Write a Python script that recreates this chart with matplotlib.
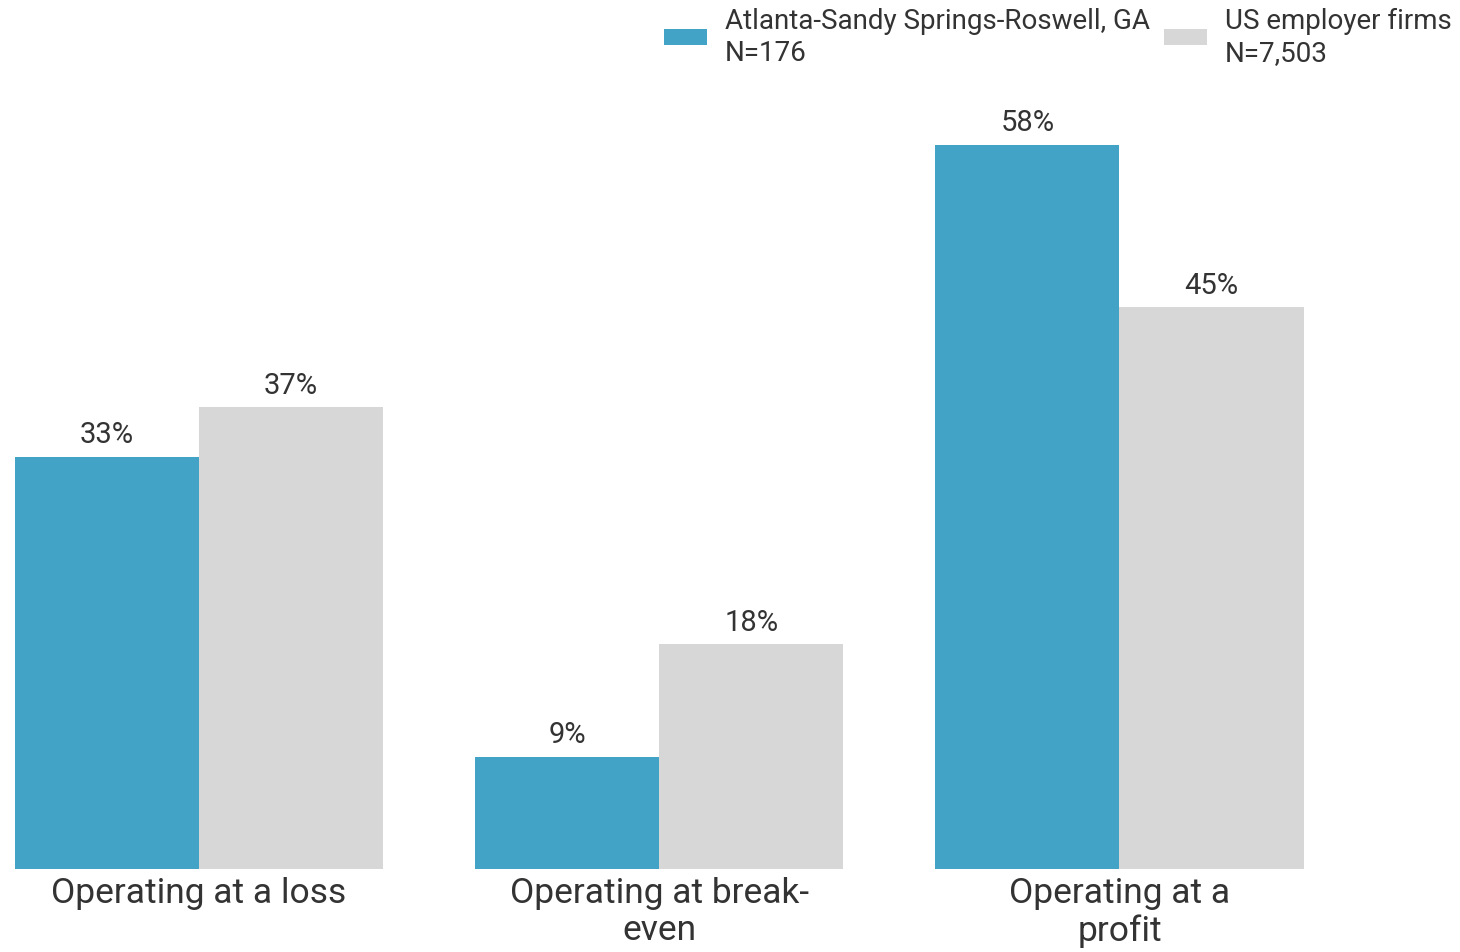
import numpy as np
import matplotlib.pyplot as plt

plt.rcParams['font.family'] = ['Roboto', 'DejaVu Sans']

categories = ["Operating at a loss", "Operating at break-\neven", "Operating at a\nprofit"]
atlanta = [33, 9, 58]
us_firms = [37, 18, 45]
series_names = ["Atlanta-Sandy Springs-Roswell, GA\nN=176", "US employer firms\nN=7,503"]

blue = "#43A3C7"
gray = "#D7D7D7"
txt = "#333333"

fig = plt.figure(figsize=(14.6, 9.53), dpi=100)
ax = fig.add_axes([15/1460, 1-870/953, 1-15/1460, (870-100)/953])

x = np.arange(len(categories))
w = 0.4
b1 = ax.bar(x - w/2, atlanta, w, color=blue, label=series_names[0])
b2 = ax.bar(x + w/2, us_firms, w, color=gray, label=series_names[1])

for bars in (b1, b2):
    for r in bars:
        ax.text(r.get_x() + r.get_width()/2, r.get_height() + 0.7, f"{r.get_height():.0f}%",
                ha="center", va="bottom", fontsize=21, color=txt)

ax.set_xlim(-0.4, 2.74)
ax.set_ylim(0, 61.7)
ax.set_xticks(x)
ax.set_xticklabels(categories, fontsize=25.5, color=txt, linespacing=1.15)
ax.tick_params(axis="x", length=0, pad=5)
ax.set_yticks([])
for s in ax.spines.values():
    s.set_visible(False)

fig.legend(loc="upper right", bbox_to_anchor=(1.0, 1.0), ncol=2, frameon=False,
           fontsize=20, handlelength=1.55, handleheight=0.47, columnspacing=0.5,
           handletextpad=0.65, labelcolor=txt, borderaxespad=0.1, borderpad=0.2)

fig.savefig("out.png", dpi=100)
